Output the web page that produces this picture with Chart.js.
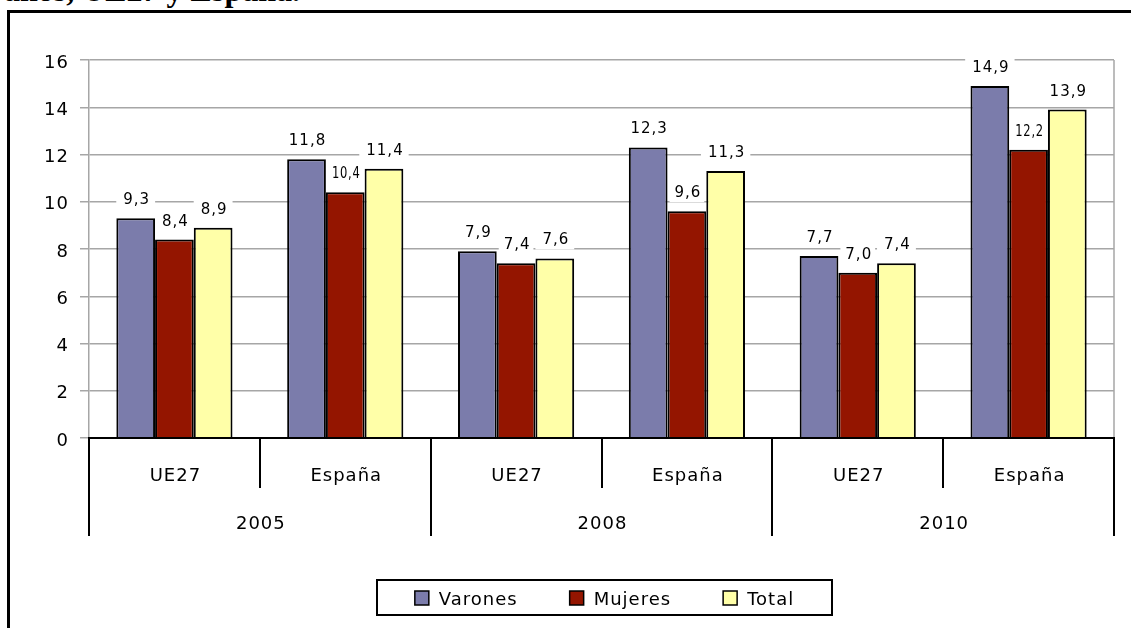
<!DOCTYPE html>
<html>
<head>
<meta charset="utf-8">
<script src="https://cdn.jsdelivr.net/npm/chart.js@4/dist/chart.umd.min.js"></script>
<style>
  html, body { margin: 0; padding: 0; background: #fff; }
  body { width: 1131px; height: 628px; position: relative; overflow: hidden; }
  #title {
    position: absolute; right: 831px; top: -26px; white-space: nowrap;
    font: bold 32px/32px "Liberation Serif", serif; color: #000;
  }
  #frame {
    position: absolute; left: 7px; top: 10px; width: 1200px; height: 700px;
    border-left: 3px solid #000; border-top: 3px solid #000;
  }
  #chart { position: absolute; left: 0; top: 0; }
</style>
</head>
<body>
<div id="title">años, UE27 y España.</div>
<div id="frame"></div>
<canvas id="chart" width="1131" height="628"></canvas>
<script>
// ===== DATA =====
const regions = ['UE27', 'España', 'UE27', 'España', 'UE27', 'España'];
const years = ['2005', '2008', '2010'];
const varones = [9.3, 11.8, 7.9, 12.3, 7.7, 14.9];
const mujeres = [8.4, 10.4, 7.4, 9.6, 7.0, 12.2];
const total = [8.9, 11.4, 7.6, 11.3, 7.4, 13.9];
const yTicks = [0, 2, 4, 6, 8, 10, 12, 14, 16];

const FONT = '"DejaVu Sans", Verdana, sans-serif';
const GRID = '#a6a6a6';

const fmt = v => v.toFixed(1).replace('.', ',');

// draws the two-level category axis, data labels and the boxed legend
const excelBits = {
  id: 'excelBits',
  beforeDraw(chart) {
    chart.ctx.letterSpacing = '1px';
  },
  afterDatasetsDraw(chart) {
    const ctx = chart.ctx;
    ctx.save();
    ctx.letterSpacing = '1px';
    ctx.font = '15px ' + FONT;
    ctx.textAlign = 'center';
    ctx.textBaseline = 'alphabetic';
    chart.data.datasets.forEach((ds, di) => {
      chart.getDatasetMeta(di).data.forEach((bar, i) => {
        const txt = fmt(ds.data[i]);
        const bw = bar.width;
        const base = bar.y - 14;
        let w = ctx.measureText(txt).width;
        let maxW;
        if (di === 1) { maxW = bw - 10; w = Math.min(w, maxW); }
        const boxW = di === 1 ? Math.min(w + 12, bw - 4) : w + 12;
        ctx.fillStyle = '#fff';
        ctx.fillRect(bar.x - boxW / 2, base - 16, boxW, 21);
        ctx.fillStyle = '#000';
        if (maxW) ctx.fillText(txt, bar.x + 1, base, maxW);
        else ctx.fillText(txt, bar.x + 1, base);
      });
    });
    ctx.restore();
  },
  afterDraw(chart) {
    const ctx = chart.ctx;
    const { left, right, top, bottom } = chart.chartArea;
    const n = chart.data.labels.length;
    const per = n / years.length;
    const step = (right - left) / n;
    ctx.save();

    // right border of the plot area
    ctx.strokeStyle = GRID;
    ctx.lineWidth = 1.5;
    ctx.beginPath();
    ctx.moveTo(right, top);
    ctx.lineTo(right, bottom);
    ctx.stroke();

    // zero line and separators
    ctx.strokeStyle = '#000';
    ctx.lineWidth = 2;
    ctx.beginPath();
    ctx.moveTo(left - 1, bottom);
    ctx.lineTo(right + 1, bottom);
    for (let i = 0; i <= n; i++) {
      const x = Math.round(left + i * step);
      ctx.moveTo(x, bottom);
      ctx.lineTo(x, bottom + (i % per === 0 ? 98 : 50));
    }
    ctx.stroke();

    // category labels
    ctx.letterSpacing = '1px';
    ctx.fillStyle = '#000';
    ctx.font = '18px ' + FONT;
    ctx.textAlign = 'center';
    ctx.textBaseline = 'alphabetic';
    const xs = chart.scales.x;
    chart.data.labels.forEach((lab, i) => {
      ctx.fillText(lab, xs.getPixelForValue(i) + 1, bottom + 43);
    });
    years.forEach((yr, g) => {
      const x = left + (g * per + per / 2) * step;
      ctx.fillText(yr, x + 1, bottom + 91);
    });

    // legend
    const lb = { x: 377, y: 580, w: 455, h: 35 };
    ctx.lineWidth = 2;
    ctx.strokeRect(lb.x, lb.y, lb.w, lb.h);
    const items = chart.data.datasets.map(ds => ({
      ds, tw: ctx.measureText(ds.label).width
    }));
    const box = 14, gapT = 10, gapI = 52;
    const totalW = items.reduce((s, it) => s + box + gapT + it.tw, 0) + gapI * (items.length - 1);
    let x = lb.x + (lb.w - totalW) / 2;
    ctx.textAlign = 'left';
    items.forEach(it => {
      ctx.fillStyle = it.ds.backgroundColor;
      ctx.fillRect(x, 591, box, box);
      ctx.lineWidth = 1.5;
      ctx.strokeRect(x, 591, box, box);
      ctx.fillStyle = '#000';
      ctx.fillText(it.ds.label, x + box + gapT, 605);
      x += box + gapT + it.tw + gapI;
    });
    ctx.restore();
  }
};

const barStyle = { borderColor: '#000', borderWidth: 2, barPercentage: 1, categoryPercentage: 0.68 };

new Chart(document.getElementById('chart'), {
  type: 'bar',
  data: {
    labels: regions,
    datasets: [
      { label: 'Varones', data: varones, backgroundColor: '#7b7cab', ...barStyle },
      { label: 'Mujeres', data: mujeres, backgroundColor: '#941500', ...barStyle },
      { label: 'Total', data: total, backgroundColor: '#ffffa8', ...barStyle }
    ]
  },
  options: {
    responsive: false,
    animation: false,
    layout: { padding: { top: 60, right: 17, bottom: 90, left: 0 } },
    plugins: { legend: { display: false }, tooltip: { enabled: false } },
    scales: {
      x: {
        ticks: { display: false },
        grid: { display: false },
        border: { display: false },
        afterFit(s) { s.height = 100; }
      },
      y: {
        min: 0,
        max: 16,
        afterBuildTicks(s) { s.ticks = yTicks.map(v => ({ value: v })); },
        ticks: { color: '#000', font: { family: FONT, size: 18 }, padding: 11, labelOffset: 3 },
        grid: { color: GRID, lineWidth: 1.5, tickLength: 9 },
        border: { color: GRID, width: 1.5 },
        afterFit(s) { s.width = 89; }
      }
    }
  },
  plugins: [excelBits]
});
</script>
</body>
</html>
